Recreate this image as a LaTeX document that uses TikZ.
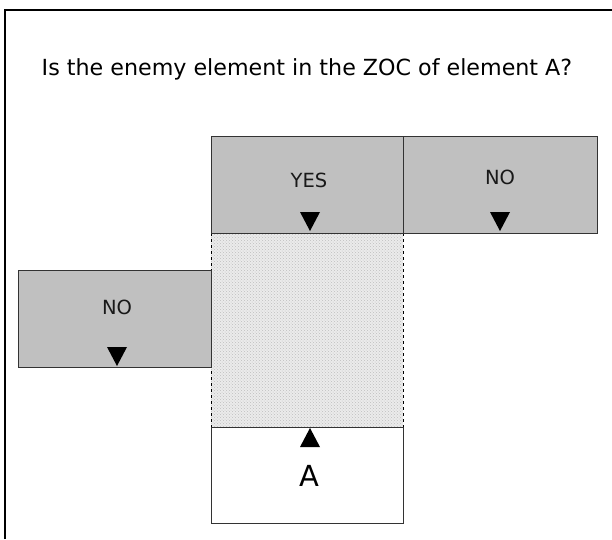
\documentclass[tikz,border=0pt]{standalone}
\usepackage{fontspec}
\setmainfont{DejaVu Sans}
\usetikzlibrary{patterns}
\definecolor{boxgray}{HTML}{C0C0C0}
\begin{document}
\begin{tikzpicture}[x=1pt,y=-1pt,
  cell/.style={draw=black!80, line width=0.9pt, fill=boxgray},
  label/.style={font=\fontsize{19.5}{23}\selectfont, text=black!90}]
\useasboundingbox (0,0) rectangle (612,539);
% outer frame (left and top edges)
\draw[line width=1.6pt] (5,539) -- (5,10) -- (612,10);
\node[font=\fontsize{22.2}{26}\selectfont] (title) at (307,69) {Is the enemy element in the ZOC of element A?};
% zone of control square
\fill[black!8] (211,233) rectangle (403,427);
\fill[pattern=crosshatch dots, pattern color=black!25] (211,233) rectangle (403,427);
\draw[dashed, line width=0.6pt] (211,233) -- (211,427) (403,233) -- (403,427);
% cells
\draw[cell] (211,136) rectangle (403,233);
\draw[cell] (403,136) rectangle (597,233);
\draw[cell] (18,270) rectangle (211,367);
\draw[cell, fill=white] (211,427) rectangle (403,523);
\node[label] (yes) at (309,180) {YES};
\node[label] (noR) at (500,177) {NO};
\node[label] (noL) at (117,307) {NO};
\node[font=\fontsize{29}{34}\selectfont] (a) at (309,476) {A};
% markers
\fill (300,212) -- (320,212) -- (310,231) -- cycle;
\fill (490,212) -- (510,212) -- (500,231) -- cycle;
\fill (107,347) -- (127,347) -- (117,366) -- cycle;
\fill (300,447) -- (320,447) -- (310,428) -- cycle;
\end{tikzpicture}
\end{document}
